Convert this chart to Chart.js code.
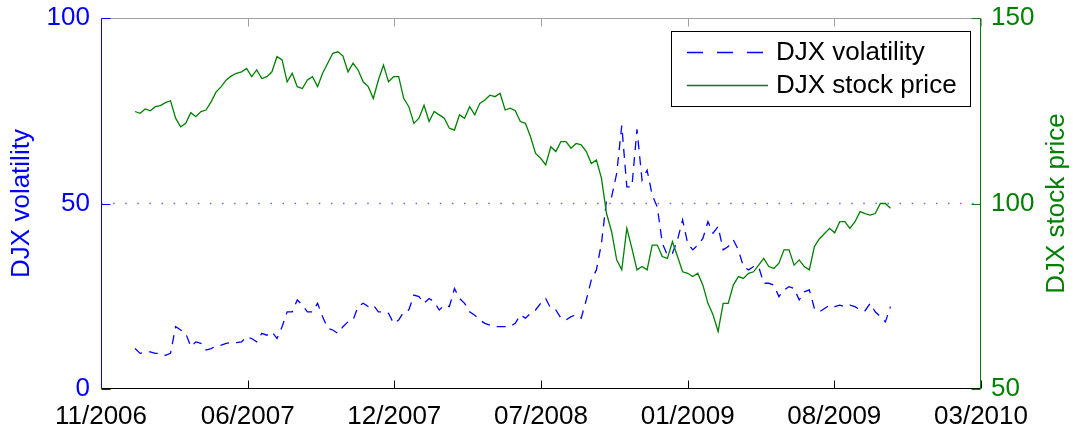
<!DOCTYPE html>
<html>
<head>
<meta charset="utf-8">
<script src="https://cdn.jsdelivr.net/npm/chart.js@4.4.1/dist/chart.umd.min.js"></script>
<style>
  html, body { margin: 0; padding: 0; background: #fff; }
  #wrap { width: 1077px; height: 430px; position: relative; }
</style>
</head>
<body>
<div id="wrap"><canvas id="djxChart"></canvas></div>
<script>
// ------------------ Data (one sample per week) ------------------
// x values are days after 1 Nov 2006
const firstDay = 57;   // first sample, end of Dec 2006
const stepDays = 7;

const xTickDays = [10, 212.5, 415, 617.5, 820, 1022.5, 1225];
const xTickLabels = ["11/2006", "06/2007", "12/2007", "07/2008", "01/2009", "08/2009", "03/2010"];
const volTicks = [0, 50, 100];
const priceTicks = [50, 100, 150];

const volatility = [
  10.9, 9.6, 10.0, 10.0, 9.6, 9.6, 9.1, 9.6, 16.8, 15.9, 15.0, 11.4, 12.7, 12.3, 10.5, 10.9, 11.6, 11.8, 12.3, 12.5, 12.5, 12.7, 14.1, 13.6, 12.7,
  15.0, 14.5, 15.4, 13.6, 16.8, 20.8, 20.8, 24.0, 22.6, 20.8, 20.8, 23.1, 19.5, 16.4, 15.9, 15.0, 16.8, 18.1, 18.6, 22.2, 23.1, 22.2, 22.6, 20.8, 20.8,
  20.4, 17.7, 18.6, 20.8, 21.3, 25.3, 24.9, 23.1, 24.4, 23.5, 21.3, 22.6, 22.2, 27.1, 24.4, 23.1, 20.8, 19.9, 18.6, 17.7, 17.2, 16.8, 16.8, 16.8,
  16.8, 17.7, 20.0, 19.1, 20.4, 21.3, 23.1, 24.4, 21.7, 21.3, 19.1, 18.6, 19.5, 20.0, 19.1, 24.0, 29.4, 32.1, 39.3, 51.0, 51.8, 58.1, 71.0, 54.5,
  54.5, 70.0, 56.3, 59.0, 52.3, 49.1, 39.3, 36.1, 36.6, 40.2, 45.6, 39.3, 37.5, 38.8, 40.6, 45.1, 42.0, 43.8, 37.5, 38.4, 40.2, 37.5, 33.0, 32.1, 33.0,
  33.0, 28.5, 28.5, 28.0, 24.9, 26.7, 27.6, 27.1, 24.0, 26.2, 26.7, 21.7, 20.8, 21.7, 22.6, 22.2, 22.6, 22.2, 22.6, 22.2, 21.3, 21.1, 23.1, 20.8, 19.5, 18.1, 22.2
];

const stockPrice = [
  124.8, 124.3, 125.5, 125.0, 126.1, 126.4, 127.2, 127.7, 123.0, 120.7, 121.6, 124.5, 123.4, 124.8, 125.2, 127.4, 130.1, 131.5, 133.3, 134.4, 135.1, 135.5, 136.4, 134.2, 136.0,
  133.7, 134.2, 135.5, 139.6, 138.7, 132.8, 135.1, 131.5, 131.0, 133.3, 134.2, 131.5, 135.1, 137.8, 140.5, 140.9, 139.8, 135.5, 137.8, 136.0, 132.8, 131.5, 128.3, 133.3, 137.3,
  132.8, 134.2, 134.2, 128.3, 126.1, 121.6, 123.0, 126.5, 122.1, 124.8, 123.9, 123.0, 120.3, 119.8, 123.9, 123.0, 126.1, 123.9, 127.0, 127.9, 129.2, 128.8, 129.7, 125.2,
  125.7, 125.0, 122.1, 121.6, 118.0, 113.5, 112.2, 110.4, 115.3, 114.0, 116.7, 116.7, 114.9, 116.2, 115.8, 114.0, 110.8, 111.7, 106.8, 97.3, 92.4, 84.8, 82.1, 93.3,
  87.9, 82.1, 83.0, 82.1, 88.8, 88.8, 85.7, 85.2, 89.7, 85.7, 81.6, 81.2, 80.3, 81.2, 78.0, 73.1, 70.0, 65.5, 73.1, 73.1, 78.0, 80.3, 79.8, 81.2, 81.6,
  83.4, 85.2, 83.0, 82.5, 83.9, 87.5, 87.5, 83.4, 84.8, 83.0, 82.1, 88.4, 90.5, 91.9, 93.3, 92.1, 95.1, 95.1, 93.3, 95.1, 97.8, 97.3, 96.9, 97.3, 100.0, 100.0, 98.7
];

const BLUE = "#0000ff";
const GREEN = "#008000";
const FAMILY = '"Liberation Sans", Arial, sans-serif';
const FONT = "26px " + FAMILY;

const days = stockPrice.map((_, i) => firstDay + i * stepDays);
const volPoints = volatility.map((v, i) => ({ x: days[i], y: v }));
const pricePoints = stockPrice.map((v, i) => ({ x: days[i], y: v }));

function seg(ctx, x1, y1, x2, y2, color) {
  ctx.strokeStyle = color;
  ctx.beginPath();
  ctx.moveTo(x1, y1);
  ctx.lineTo(x2, y2);
  ctx.stroke();
}

// ------------------ Box, inward ticks, axis titles, legend ------------------
const matlabFrame = {
  id: "matlabFrame",
  afterDraw(chart) {
    const { ctx, chartArea: a, scales } = chart;
    const L = Math.round(a.left) + 0.5, R = Math.round(a.right) - 0.5;
    const T = Math.round(a.top) + 0.5, B = Math.round(a.bottom) - 0.5;
    ctx.save();
    ctx.lineWidth = 1;

    seg(ctx, L, T, R, T, "#a0a0a0");
    seg(ctx, L, B, R, B, "#000");
    xTickDays.forEach(d => {
      const px = Math.round(scales.x.getPixelForValue(d)) + 0.5;
      seg(ctx, px, B, px, B - 8, "#000");
      seg(ctx, px, T, px, T + 8, "#a0a0a0");
    });

    seg(ctx, L, T, L, B, BLUE);
    volTicks.forEach(v => {
      const py = Math.round(scales.yV.getPixelForValue(v)) + 0.5;
      seg(ctx, L, py, L + 9, py, BLUE);
    });
    seg(ctx, R, T, R, B, GREEN);
    priceTicks.forEach(v => {
      const py = Math.round(scales.yP.getPixelForValue(v)) + 0.5;
      seg(ctx, R, py, R - 9, py, GREEN);
    });

    // axis titles, both reading bottom to top
    const cy = (a.top + a.bottom) / 2;
    ctx.font = FONT;
    ctx.textAlign = "center";
    ctx.textBaseline = "middle";
    ctx.save();
    ctx.translate(22, cy);
    ctx.rotate(-Math.PI / 2);
    ctx.fillStyle = BLUE;
    ctx.fillText("DJX volatility", 0, 0);
    ctx.restore();
    ctx.save();
    ctx.translate(1057, cy);
    ctx.rotate(-Math.PI / 2);
    ctx.fillStyle = GREEN;
    ctx.fillText("DJX stock price", 0, 0);
    ctx.restore();

    // legend
    ctx.fillStyle = "#fff";
    ctx.fillRect(671, 31, 299, 75);
    ctx.strokeStyle = "#000";
    ctx.strokeRect(671.5, 31.5, 299, 75);
    ctx.lineWidth = 1.3;
    ctx.setLineDash([16, 14]);
    seg(ctx, 687, 52.5, 768, 52.5, BLUE);
    ctx.setLineDash([]);
    seg(ctx, 687, 85.5, 768, 85.5, GREEN);
    ctx.fillStyle = "#000";
    ctx.textAlign = "left";
    ctx.fillText("DJX volatility", 776, 53);
    ctx.fillText("DJX stock price", 776, 86);
    ctx.restore();
  }
};

// ------------------ Chart ------------------
new Chart(document.getElementById("djxChart"), {
  type: "line",
  data: {
    datasets: [
      {
        label: "DJX stock price",
        data: pricePoints,
        yAxisID: "yP",
        borderColor: GREEN,
        borderWidth: 1.3,
        pointRadius: 0,
        fill: false,
        order: 0
      },
      {
        label: "DJX volatility",
        data: volPoints,
        yAxisID: "yV",
        borderColor: BLUE,
        borderWidth: 1.3,
        borderDash: [9, 7],
        pointRadius: 0,
        fill: false,
        order: 1
      },
      {
        label: "level 50",
        data: [{ x: xTickDays[0], y: 50 }, { x: xTickDays[xTickDays.length - 1], y: 50 }],
        yAxisID: "yV",
        borderColor: "rgba(0,0,255,0.6)",
        borderWidth: 1.5,
        borderDash: [1.5, 10.6],
        pointRadius: 0,
        fill: false,
        order: 2
      }
    ]
  },
  options: {
    responsive: true,
    maintainAspectRatio: false,
    animation: false,
    layout: { padding: 0 },
    plugins: { legend: { display: false }, tooltip: { enabled: false } },
    scales: {
      x: {
        type: "linear",
        min: xTickDays[0],
        max: xTickDays[xTickDays.length - 1],
        grid: { display: false, drawTicks: false },
        border: { display: false },
        afterBuildTicks: s => { s.ticks = xTickDays.map(d => ({ value: d })); },
        afterFit: s => { s.height = 41; },
        ticks: {
          autoSkip: false,
          maxRotation: 0,
          padding: 12,
          color: "#000",
          font: { family: FAMILY, size: 26 },
          callback: (v, i) => xTickLabels[i]
        }
      },
      yV: {
        position: "left",
        min: 0,
        max: 100,
        grid: { display: false, drawTicks: false },
        border: { display: false },
        afterBuildTicks: s => { s.ticks = volTicks.map(v => ({ value: v })); },
        afterFit: s => { s.width = 101; },
        ticks: {
          padding: 11,
          color: BLUE,
          font: { family: FAMILY, size: 26, lineHeight: 0.54 }
        }
      },
      yP: {
        position: "right",
        min: 50,
        max: 150,
        grid: { display: false, drawTicks: false },
        border: { display: false },
        afterBuildTicks: s => { s.ticks = priceTicks.map(v => ({ value: v })); },
        afterFit: s => { s.width = 96; },
        ticks: {
          padding: 10,
          color: GREEN,
          font: { family: FAMILY, size: 26, lineHeight: 0.54 }
        }
      }
    }
  },
  plugins: [matlabFrame]
});
</script>
</body>
</html>
